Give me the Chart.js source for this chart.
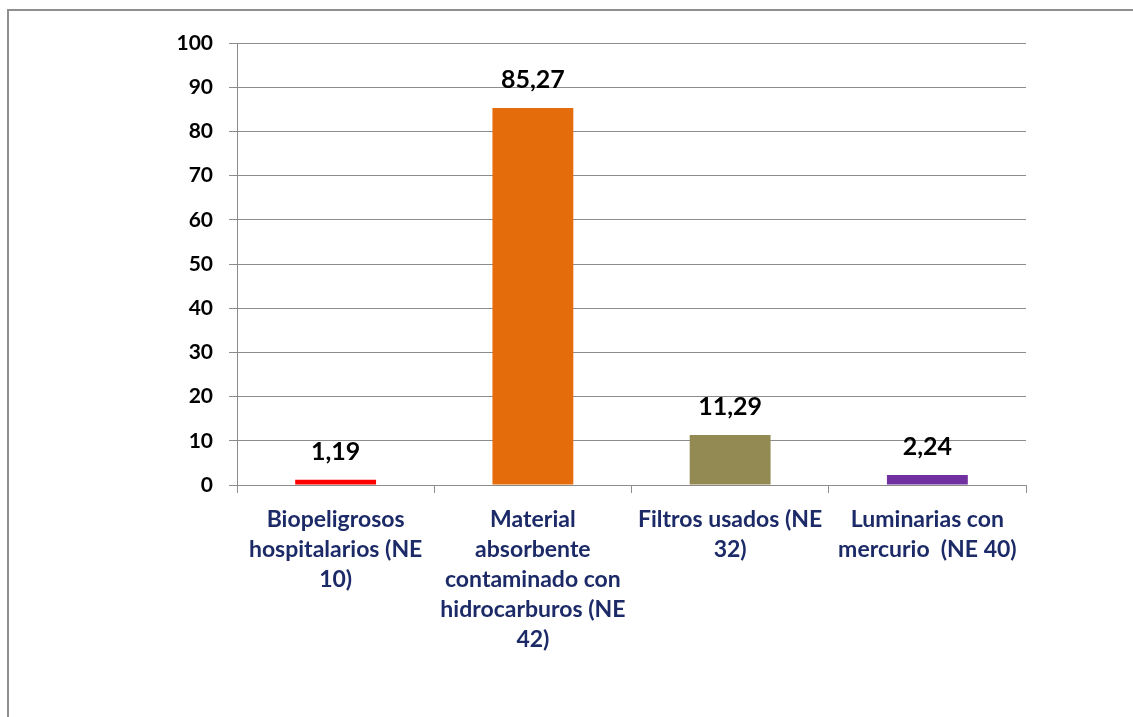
<!DOCTYPE html>
<html>
<head>
<meta charset="utf-8">
<script src="https://cdn.jsdelivr.net/npm/chart.js@4.4.0/dist/chart.umd.min.js"></script>
<style>
  html, body { margin: 0; padding: 0; background: #fff; }
  #frame {
    position: absolute; left: 7px; top: 9px; width: 1140px; height: 720px;
    border-left: 2px solid #8f8f8f; border-top: 2px solid #8f8f8f;
  }
  #wrap { position: absolute; left: 0; top: 0; width: 1133px; height: 717px; }
</style>
</head>
<body>
<div id="frame"></div>
<div id="wrap"><canvas id="chart" width="1133" height="717"></canvas></div>
<script>
// categories and values
const categories = [
  ['Biopeligrosos', 'hospitalarios (NE', '10)'],
  ['Material', 'absorbente', 'contaminado con', 'hidrocarburos (NE', '42)'],
  ['Filtros usados (NE', '32)'],
  ['Luminarias con', 'mercurio  (NE 40)']
];
const values = [1.19, 85.27, 11.29, 2.24];
const valueLabels = ['1,19', '85,27', '11,29', '2,24'];
const barColors = ['#FF0000', '#E46C0A', '#938953', '#7030A0'];

const FONT = 'Lato, Calibri, "Open Sans", sans-serif';

// simple data label plugin
const barLabels = {
  id: 'barLabels',
  afterDatasetsDraw(chart) {
    const ctx = chart.ctx;
    const meta = chart.getDatasetMeta(0);
    ctx.save();
    ctx.font = 'bold 25px ' + FONT;
    ctx.fillStyle = '#000';
    ctx.textAlign = 'center';
    ctx.textBaseline = 'middle';
    meta.data.forEach((bar, i) => {
      ctx.fillText(valueLabels[i], bar.x, bar.y - 28);
    });
    ctx.restore();
  }
};

new Chart(document.getElementById('chart'), {
  type: 'bar',
  data: {
    labels: categories,
    datasets: [{
      data: values,
      backgroundColor: barColors,
      barPercentage: 0.41,
      categoryPercentage: 1.0
    }]
  },
  options: {
    responsive: false,
    animation: false,
    layout: { padding: { left: 0, top: 43, right: 107, bottom: 0 } },
    plugins: { legend: { display: false }, tooltip: { enabled: false } },
    scales: {
      y: {
        min: 0, max: 100,
        ticks: {
          stepSize: 10,
          color: '#000',
          font: { family: FONT, size: 21, weight: 'bold' },
          padding: 16
        },
        grid: { color: '#8c8c8c', lineWidth: 1, tickLength: 8 },
        border: { color: '#8c8c8c', width: 1 },
        afterFit(scale) { scale.width = 237; }
      },
      x: {
        ticks: {
          color: '#1c2b68',
          font: { family: FONT, size: 23, weight: 'bold', lineHeight: 30 / 23 },
          maxRotation: 0, autoSkip: false,
          padding: 12
        },
        grid: { display: true, drawOnChartArea: false, drawTicks: true, tickLength: 8, color: '#8c8c8c', offset: true },
        border: { color: '#8c8c8c', width: 1 },
        afterFit(scale) { scale.height = 232; }
      }
    }
  },
  plugins: [barLabels]
});
</script>
</body>
</html>
